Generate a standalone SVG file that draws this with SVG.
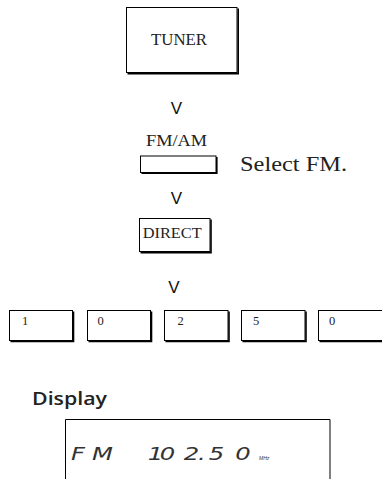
<svg xmlns="http://www.w3.org/2000/svg" width="382" height="479" viewBox="0 0 382 479">
<style>
.box{fill:#fff;stroke:#000;stroke-width:1}
.sh{fill:none;stroke:#000;stroke-width:1.6}
.serif{font-family:"Liberation Serif","Times New Roman",serif;fill:#222}
.arrow{font-family:"Liberation Sans",Arial,sans-serif;font-size:17px;fill:#111;text-anchor:middle}
.num{font-family:"Liberation Serif","Times New Roman",serif;font-size:12.5px;fill:#222}
.lcd{font-family:"DejaVu Sans",sans-serif;font-weight:200;font-style:italic;font-size:18px;fill:#333;text-anchor:middle}
</style>
<rect width="382" height="479" fill="#fff"/>
<g id="tuner">
<rect class="box" x="126.5" y="7.5" width="110.5" height="65"/>
<path class="sh" d="M238.2 8.5 V73.8 H127.5"/>
<text class="serif" x="151" y="45" font-size="16.5" textLength="56" lengthAdjust="spacingAndGlyphs">TUNER</text>
</g>
<g id="fmam">
<text class="serif" x="146" y="146" font-size="16" textLength="61" lengthAdjust="spacingAndGlyphs">FM/AM</text>
<rect class="box" x="140.5" y="156" width="75.5" height="16.5"/>
<path class="sh" d="M216.8 157 V173.3 H141.5"/>
<text class="serif" x="240" y="171" font-size="22" textLength="107" lengthAdjust="spacingAndGlyphs">Select FM.</text>
</g>
<g id="direct">
<rect class="box" x="139.5" y="218.5" width="70.5" height="33"/>
<path class="sh" d="M211 219.5 V252.8 H140.5"/>
<text class="serif" x="142.7" y="238.3" font-size="15" textLength="59" lengthAdjust="spacingAndGlyphs">DIRECT</text>
</g>
<g id="key1">
<rect class="box" x="9.5" y="310.5" width="63" height="30"/>
<path class="sh" d="M73.5 311.5 V341.5 H10.5"/>
<text class="num" x="22" y="325">1</text>
</g>
<g id="key2">
<rect class="box" x="87.5" y="310.5" width="63" height="30"/>
<path class="sh" d="M151.5 311.5 V341.5 H88.5"/>
<text class="num" x="97.5" y="325">0</text>
</g>
<g id="key3">
<rect class="box" x="164.5" y="310.5" width="63.5" height="30"/>
<path class="sh" d="M229 311.5 V341.5 H165.5"/>
<text class="num" x="177.5" y="325">2</text>
</g>
<g id="key4">
<rect class="box" x="241.5" y="310.5" width="63.5" height="30"/>
<path class="sh" d="M306 311.5 V341.5 H242.5"/>
<text class="num" x="253" y="325">5</text>
</g>
<g id="key5">
<rect class="box" x="318.5" y="310.5" width="70" height="30"/>
<path class="sh" d="M319.5 341.5 H382"/>
<text class="num" x="329" y="325">0</text>
</g>
<g id="display">
<text x="32" y="405" font-family="'Open Sans','Liberation Sans',Arial,sans-serif" font-weight="600" font-size="18.5" fill="#222" textLength="75" lengthAdjust="spacingAndGlyphs">Display</text>
<path d="M65.5 479 V419.5 H330 V479" fill="none" stroke="#000" stroke-width="1"/>
<g transform="translate(0 460) scale(1.35 1)">
<text class="lcd" x="57.8 75.9" y="0">FM</text>
<text class="lcd" x="115.2 124.1 141.9 149.6 160.4 180" y="0">102.50</text>
</g>
<text x="259" y="460" font-family="'Liberation Sans',Arial,sans-serif" font-size="5" font-style="italic" fill="#333">MHz</text>
</g>
<g id="connectors">
<text class="arrow" x="176.3" y="113.6">V</text>
<text class="arrow" x="176.3" y="203.7">V</text>
<text class="arrow" x="174" y="293.3">V</text>
</g>
</svg>
